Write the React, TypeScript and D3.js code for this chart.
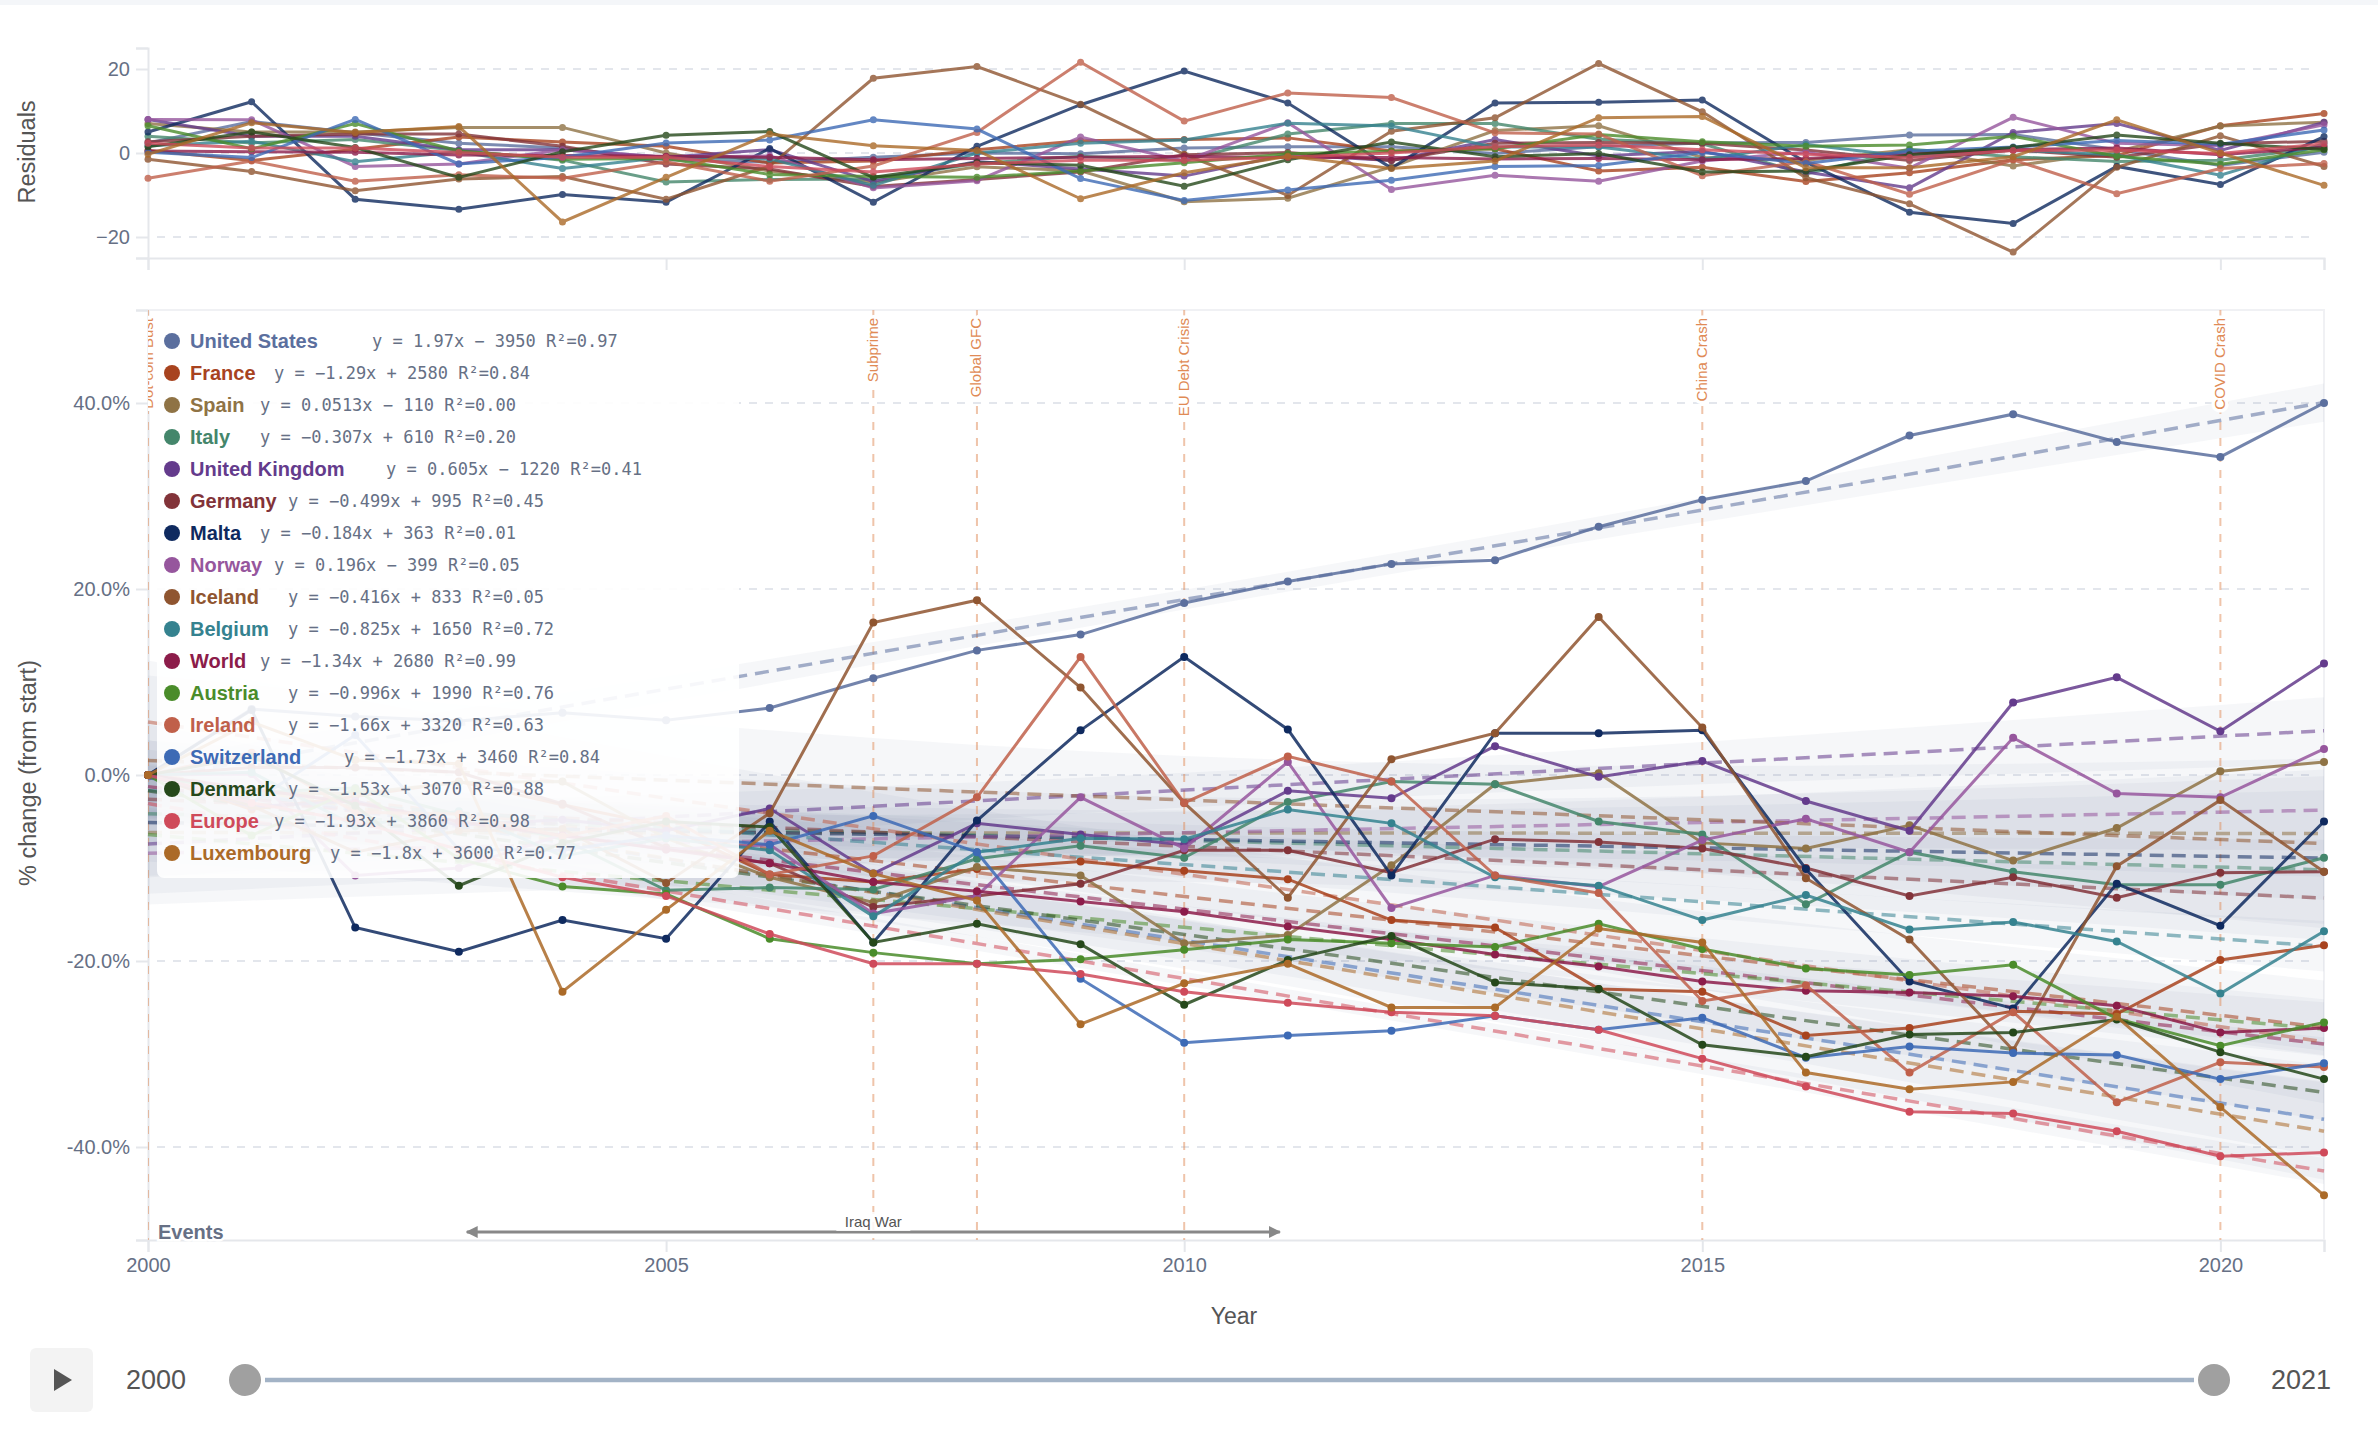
import { useRef, useEffect } from "react";
import * as d3 from "d3";

const years = d3.range(2000, 2022);

const names = ["United States", "France", "Spain", "Italy", "United Kingdom", "Germany", "Malta", "Norway", "Iceland", "Belgium", "World", "Austria", "Ireland", "Switzerland", "Denmark", "Europe", "Luxembourg"];

const colors = ["#5b6f9e", "#a8431f", "#8f7345", "#44866b", "#643b8c", "#823339", "#0f2a5f", "#96569d", "#8f5530", "#35828f", "#8c1c4a", "#4a8c2a", "#c0604a", "#3d6ab5", "#25481a", "#cf4a5a", "#ab6a28"];

const equations = [
  "y = 1.97x − 3950 R²=0.97",
  "y = −1.29x + 2580 R²=0.84",
  "y = 0.0513x − 110 R²=0.00",
  "y = −0.307x + 610 R²=0.20",
  "y = 0.605x − 1220 R²=0.41",
  "y = −0.499x + 995 R²=0.45",
  "y = −0.184x + 363 R²=0.01",
  "y = 0.196x − 399 R²=0.05",
  "y = −0.416x + 833 R²=0.05",
  "y = −0.825x + 1650 R²=0.72",
  "y = −1.34x + 2680 R²=0.99",
  "y = −0.996x + 1990 R²=0.76",
  "y = −1.66x + 3320 R²=0.63",
  "y = −1.73x + 3460 R²=0.84",
  "y = −1.53x + 3070 R²=0.88",
  "y = −1.93x + 3860 R²=0.98",
  "y = −1.8x + 3600 R²=0.77",
];

// % change from start
const unitedStates = [0, 7.1, 6.3, 5.8, 6.7, 5.9, 7.2, 10.4, 13.4, 15.1, 18.5, 20.8, 22.7, 23.1, 26.7, 29.6, 31.6, 36.5, 38.8, 35.8, 34.2, 40];
const france = [0, -3.7, -2.3, -0.7, -3.2, -5.5, -10.7, -11.5, -10.1, -9.3, -10.3, -11.2, -15.6, -16.4, -23, -23.3, -28, -27.2, -25.4, -25.7, -19.9, -18.3];
const spain = [0, -2, -2, -0.8, -0.7, -6.8, -11, -13.7, -9.9, -10.8, -18.1, -17.2, -9.7, -1, 0.2, -7.3, -7.9, -5.4, -9.2, -5.7, 0.4, 1.4];
const italy = [0, -1.9, -1.4, -4.3, -6.9, -12.4, -12.1, -12.3, -9, -7.6, -8.9, -2.9, -0.7, -1, -5, -6.4, -13.9, -8.3, -10.4, -11.8, -11.8, -8.9];
const unitedKingdom = [0, -3.4, -2.8, -5.4, -4.8, -6, -3.6, -10.6, -5.2, -6.4, -7.5, -1.7, -2.5, 3.1, -0.2, 1.5, -2.8, -6, 7.8, 10.5, 4.7, 12];
const germany = [0, 0.8, 0.8, 0.3, -3.1, -7.8, -9.5, -14.2, -13, -11.7, -8.1, -8.1, -10.5, -6.9, -7.2, -7.9, -10, -13, -11, -13.2, -10.5, -10.4];
const malta = [0, 7, -16.4, -19, -15.6, -17.6, -5, -18, -4.9, 4.8, 12.7, 4.9, -10.8, 4.5, 4.5, 4.8, -10.1, -22.2, -25.1, -11.7, -16.2, -5];
const norway = [0, 0.1, -10.8, -10, -6.4, -8, -7.5, -14.9, -13, -2.4, -7.9, 1.4, -14.3, -10.8, -12, -7, -4.7, -8.3, 4, -2, -2.4, 2.8];
const iceland = [0, -3.3, -8.3, -6, -5.8, -11.6, -4.1, 16.4, 18.8, 9.4, -3, -13.2, 1.7, 4.5, 17, 5.1, -11.1, -17.7, -29.6, -9.8, -2.7, -10.4];
const belgium = [0, 0.3, -5.5, -3.9, -8.7, -6.8, -8.1, -15.2, -8.3, -6.8, -6.9, -3.7, -5.2, -11, -11.9, -15.6, -12.9, -16.6, -15.8, -17.9, -23.5, -16.8];
const world = [0, -1.5, -3, -5, -6.5, -8, -9.5, -11.5, -12.5, -13.6, -14.7, -16.3, -17.7, -19.3, -20.6, -22.2, -23.2, -23.4, -23.8, -24.8, -27.7, -27.2];
const austria = [0, -6.5, -1.5, -9, -12, -12.8, -17.6, -19.1, -20.3, -19.8, -18.8, -17.7, -18.1, -18.5, -16, -18.7, -20.8, -21.5, -20.4, -26.2, -29.1, -26.6];
const ireland = [0, 2.4, -4, -4.2, -6.6, -4.4, -10.7, -8.7, -2.4, 12.7, -3, 2, -0.7, -10.8, -12.7, -24.3, -22.6, -32, -25.5, -35.2, -30.9, -31.4];
const switzerland = [0, -3, 4.3, -8, -8.1, -6.5, -7.5, -4.4, -8.3, -21.9, -28.8, -28, -27.5, -25.9, -27.4, -26.1, -30.4, -29.2, -29.9, -30.1, -32.7, -31];
const denmark = [0, 2, -3.3, -11.9, -7.3, -5, -5.6, -18, -16, -18.2, -24.7, -19.9, -17.3, -22.3, -23, -29, -30.3, -27.9, -27.7, -26.3, -29.8, -32.7];
const europe = [0, -3, -5, -8, -11, -13, -17.1, -20.3, -20.3, -21.4, -23.3, -24.5, -25.5, -25.9, -27.4, -30.5, -33.5, -36.2, -36.4, -38.3, -41, -40.6];
const luxembourg = [0, 5.7, 1.6, 1.2, -23.3, -14.5, -6, -10.6, -13.5, -26.8, -22.4, -20.3, -25, -25, -16.5, -18, -32, -33.8, -33, -26, -35.7, -45.2];

const seriesValues = [unitedStates, france, spain, italy, unitedKingdom, germany, malta, norway, iceland, belgium, world, austria, ireland, switzerland, denmark, europe, luxembourg];

// residuals panel
const resUnitedStates = [2.4, 7.5, 4.8, 2.3, 1.2, -1.6, -2.2, -1, 0, -0.2, 1.2, 1.5, 1.5, -0.1, 1.5, 2.4, 2.5, 4.3, 4.4, 0.8, -3, 0.2];
const resFrance = [0.6, -1.8, 0.9, 3.8, 2.6, 1.6, -2.4, -1.9, 0.8, 2.9, 3.2, 3.6, 0.5, 1, -4.3, -3.4, -6.8, -4.7, -1.6, -0.6, 6.5, 9.4];
const resSpain = [7, 5, 5, 6.1, 6.1, 0, -4.3, -7.05, -3.3, -4.25, -11.6, -10.75, -3.3, 5.35, 6.5, -1.05, -1.7, 0.75, -3.1, 0.35, 6.4, 7.35];
const resItaly = [4, 2.4, 3.2, 0.6, -1.7, -6.9, -6.3, -6.2, -2.5, -0.8, -1.8, 4.5, 7, 7, 3.3, 2.2, -5, 0.9, -0.9, -2, -1.7, 1.5];
const resUnitedKingdom = [8, 4, 4, 0.8, 0.8, -1, 0.8, -6.8, -2, -3.8, -5.5, -0.4, -1.8, 3.2, -0.7, 0.4, -4.5, -8.3, 4.9, 7, 0.6, 7.3];
const resGermany = [2.7, 4, 4.5, 4.5, 1.6, -2.6, -3.8, -8, -6.3, -4.5, -0.4, 0.1, -1.8, 2.3, 2.5, 2.3, 0.7, -1.8, 0.7, -1, 2.2, 2.8];
const resMalta = [5, 12.2, -11, -13.4, -9.9, -11.7, 1.1, -11.7, 1.6, 11.5, 19.5, 11.9, -3.6, 11.9, 12.1, 12.6, -2.2, -14.1, -16.8, -3.2, -7.5, 3.9];
const resNorway = [8, 7.9, -3.2, -2.6, 0.8, -1, -0.7, -8.3, -6.6, 3.8, -1.9, 7.2, -8.7, -5.3, -6.7, -1.9, 0.2, -3.6, 8.5, 2.3, 1.7, 6.7];
const resIceland = [-1.5, -4.4, -9, -6.2, -5.6, -11, -3.1, 17.8, 20.6, 11.6, -0.3, -10.1, 5.2, 8.4, 21.3, 9.8, -5.9, -12.1, -23.6, -3.4, 4.1, -3.2];
const resBelgium = [1.7, 2.8, -2.1, 0.3, -3.7, -1, -1.4, -7.7, 0, 2.3, 3.1, 7.1, 6.4, 1.4, 1.4, -1.5, 2, -0.9, 0.8, -0.5, -5.3, 2.2];
const resWorld = [0.5, 0.3, 0.2, -0.5, -0.6, -0.8, -1, -1.6, -1.3, -1, -0.8, -1.1, -1.1, -1.4, -1.3, -1.6, -1.3, -0.1, 0.8, 1.2, -0.4, 1.4];
const resAustria = [6.5, 1, 7, 0.5, -1.5, -1.3, -5.1, -5.6, -5.8, -4.3, -2.3, -0.2, 0.4, 1, 4.4, 2.7, 1.6, 1.9, 4, -0.8, -2.7, 0.8];
const resIreland = [-6, -1.9, -6.7, -5.2, -6, -2.1, -6.7, -3.1, 4.9, 21.6, 7.6, 14.3, 13.2, 4.8, 4.5, -5.4, -2, -9.8, -1.6, -9.7, -3.7, -2.5];
const resSwitzerland = [0.2, -1.1, 8, -2.6, -1, 2.4, 3.1, 7.9, 5.7, -6.1, -11.3, -8.8, -6.5, -3.2, -3, 0.1, -2.5, 0.4, 1.4, 3, 2.1, 5.5];
const resDenmark = [1.5, 5, 1.3, -5.8, 0.3, 4.2, 5.1, -5.8, -2.3, -2.9, -7.9, -1.6, 2.6, -0.9, -0.1, -4.5, -4.3, -0.4, 1.3, 4.3, 2.3, 0.9];
const resEurope = [2.3, 1.2, 1.2, 0.1, -1, -1, -3.2, -4.5, -2.6, -1.7, -1.7, -1, 0, 1.5, 1.9, 0.8, -0.3, -1.1, 0.6, 0.7, -0.1, 2.2];
const resLuxembourg = [-0.3, 7.2, 4.9, 6.3, -16.4, -5.8, 4.5, 1.7, 0.6, -10.9, -4.7, -0.8, -3.7, -1.9, 8.4, 8.7, -3.5, -3.5, -0.9, 7.9, 0, -7.7];

const seriesResiduals = [resUnitedStates, resFrance, resSpain, resItaly, resUnitedKingdom, resGermany, resMalta, resNorway, resIceland, resBelgium, resWorld, resAustria, resIreland, resSwitzerland, resDenmark, resEurope, resLuxembourg];

const eventNames = ["Dot-com Bust", "Subprime", "Global GFC", "EU Debt Crisis", "China Crash", "COVID Crash"];
const eventYears = [2000, 2007, 2008, 2010, 2015, 2020];

const xTicks = [2000, 2005, 2010, 2015, 2020, 2021];
const xLabelTicks = [2000, 2005, 2010, 2015, 2020];
const mainTicks = [-50, -40, -20, 0, 20, 40, 50];
const residualTicks = [-25, -20, 0, 20, 25];

function regress(ys: number[]) {
  const xm = d3.mean(years) as number;
  const ym = d3.mean(ys) as number;
  const sxx = d3.sum(years, (x) => (x - xm) ** 2);
  const sxy = d3.sum(years, (x, i) => (x - xm) * (ys[i] - ym));
  const slope = sxy / sxx;
  const fit = (x: number) => ym + slope * (x - xm);
  const se = Math.sqrt(d3.sum(years, (x, i) => (ys[i] - fit(x)) ** 2) / (years.length - 2));
  const half = (x: number) => 1.9 * se * Math.sqrt(1 / years.length + (x - xm) ** 2 / sxx);
  return { fit, half };
}

export default function App() {
  const svgRef = useRef<SVGSVGElement>(null);

  useEffect(() => {
    if (!svgRef.current) return;
    const svg = d3.select(svgRef.current);
    svg.selectAll("*").remove();
    const font = "'Liberation Sans', Arial, sans-serif";
    const tickColor = "#667085";
    const axisColor = "#e5e7eb";
    const gridColor = "#e3e6ec";
    const eventColor = "#e08a55";

    const left = 148;
    const right = 2324;
    const x = d3.scaleLinear().domain([2000, 2021]).range([left, right]);
    const yRes = d3.scaleLinear().domain([-25, 25]).range([258, 48]);
    const yMain = d3.scaleLinear().domain([-50, 50]).range([1240, 310]);

    svg.append("rect").attr("width", 2378).attr("height", 5).attr("fill", "#f4f6f9");

    const defs = svg.append("defs");
    defs
      .append("clipPath")
      .attr("id", "plotClip")
      .append("rect")
      .attr("x", left)
      .attr("y", 310)
      .attr("width", right - left)
      .attr("height", 930);

    const drawAxes = (
      yScale: d3.ScaleLinear<number, number>,
      ticks: number[],
      gridTicks: number[],
      fmt: (d: number) => string,
      labels: number[]
    ) => {
      const [bottom] = yScale.range();
      const g = svg.append("g").attr("font-family", font);
      g.selectAll(".grid")
        .data(gridTicks)
        .enter()
        .append("line")
        .attr("x1", left + 9)
        .attr("x2", right - 8)
        .attr("y1", (d) => yScale(d))
        .attr("y2", (d) => yScale(d))
        .attr("stroke", gridColor)
        .attr("stroke-width", 2)
        .attr("stroke-dasharray", "8 8");
      const yAxis = g
        .append("g")
        .attr("transform", `translate(${left},0)`)
        .call(
          d3
            .axisLeft(yScale)
            .tickValues(ticks)
            .tickSizeOuter(0)
            .tickSize(12)
            .tickPadding(6)
            .tickFormat((d) => fmt(d as number))
        );
      yAxis.selectAll("text").attr("font-size", 20).attr("fill", tickColor);
      yAxis.selectAll("line").attr("stroke", axisColor).attr("stroke-width", 2);
      yAxis.select(".domain").attr("stroke", axisColor).attr("stroke-width", 2);
      const xAxis = g
        .append("g")
        .attr("transform", `translate(0,${bottom})`)
        .call(
          d3
            .axisBottom(x)
            .tickValues(xTicks)
            .tickSizeOuter(0)
            .tickSize(12)
            .tickPadding(6)
            .tickFormat((d) => (labels.includes(d as number) ? d3.format("d")(d as number) : ""))
        );
      xAxis.selectAll("text").attr("font-size", 20).attr("fill", tickColor);
      xAxis.selectAll("line").attr("stroke", axisColor).attr("stroke-width", 2);
      xAxis.select(".domain").attr("stroke", axisColor).attr("stroke-width", 2);
    };

    drawAxes(yRes, residualTicks, [-20, 0, 20], (d) => (Math.abs(d) === 25 ? "" : d3.format("d")(d)), []);
    drawAxes(yMain, mainTicks, [-40, -20, 0, 20, 40], (d) => (Math.abs(d) === 50 ? "" : `${d.toFixed(1)}%`), xLabelTicks);

    // frame of the main panel
    svg
      .append("path")
      .attr("d", `M${left},310H${right}V1240`)
      .attr("fill", "none")
      .attr("stroke", "#f0f1f4")
      .attr("stroke-width", 2);

    const axisLabel = (text: string, tx: number, ty: number, rotate: boolean, size: number) =>
      svg
        .append("text")
        .attr("transform", `translate(${tx},${ty})${rotate ? " rotate(-90)" : ""}`)
        .attr("text-anchor", "middle")
        .attr("dominant-baseline", "central")
        .attr("font-family", font)
        .attr("font-size", size)
        .attr("fill", "#555")
        .text(text);
    axisLabel("Residuals", 27, 152, true, 23.5);
    axisLabel("% change (from start)", 28, 773, true, 23.5);
    axisLabel("Year", 1234, 1316, false, 23);

    // residuals panel
    const resLine = d3
      .line<number>()
      .x((_, i) => x(years[i]))
      .y((d) => yRes(d));
    const resLayer = svg.append("g");
    seriesResiduals.forEach((vals, s) => {
      const g = resLayer.append("g").attr("opacity", 0.8);
      g.append("path")
        .attr("d", resLine(vals))
        .attr("fill", "none")
        .attr("stroke", colors[s])
        .attr("stroke-width", 3);
      g.selectAll("circle")
        .data(vals)
        .enter()
        .append("circle")
        .attr("cx", (_, i) => x(years[i]))
        .attr("cy", (d) => yRes(d))
        .attr("r", 3.5)
        .attr("fill", colors[s]);
    });

    // confidence bands
    const fits = seriesValues.map((v) => regress(v));
    const bandLayer = svg.append("g");
    fits.forEach((f) => {
      const band = d3
        .area<number>()
        .x((d) => x(d))
        .y0((d) => yMain(f.fit(d) - f.half(d)))
        .y1((d) => yMain(f.fit(d) + f.half(d)));
      bandLayer.append("path").attr("d", band(years)).attr("fill", "#5f7396").attr("fill-opacity", 0.06);
    });

    // event markers
    const eventLayer = svg.append("g").attr("clip-path", "url(#plotClip)").attr("font-family", font);
    eventYears.forEach((yr, i) => {
      eventLayer
        .append("line")
        .attr("x1", x(yr))
        .attr("x2", x(yr))
        .attr("y1", 310)
        .attr("y2", 1240)
        .attr("stroke", eventColor)
        .attr("stroke-opacity", 0.5)
        .attr("stroke-width", 2)
        .attr("stroke-dasharray", "8 8");
      eventLayer
        .append("text")
        .attr("transform", `translate(${x(yr) - 1},318) rotate(-90)`)
        .attr("text-anchor", "end")
        .attr("dominant-baseline", "central")
        .attr("font-size", 15)
        .attr("fill", eventColor)
        .attr("stroke", "white")
        .attr("stroke-width", 7)
        .attr("stroke-linejoin", "round")
        .attr("paint-order", "stroke")
        .text(eventNames[i]);
    });

    // trend lines
    const trendLayer = svg.append("g");
    fits.forEach((f, s) => {
      const trend = d3
        .line<number>()
        .x((d) => x(d))
        .y((d) => yMain(f.fit(d)));
      trendLayer
        .append("path")
        .attr("d", trend([2000, 2021]))
        .attr("fill", "none")
        .attr("stroke", colors[s])
        .attr("stroke-opacity", 0.55)
        .attr("stroke-width", 3.5)
        .attr("stroke-dasharray", "14 8");
    });

    // main lines
    const mainLine = d3
      .line<number>()
      .x((_, i) => x(years[i]))
      .y((d) => yMain(d));
    const lineLayer = svg.append("g");
    seriesValues.forEach((vals, s) => {
      const g = lineLayer.append("g");
      g.append("path")
        .attr("d", mainLine(vals))
        .attr("fill", "none")
        .attr("stroke", colors[s])
        .attr("stroke-opacity", 0.85)
        .attr("stroke-width", 3);
      g.selectAll("circle")
        .data(vals)
        .enter()
        .append("circle")
        .attr("cx", (_, i) => x(years[i]))
        .attr("cy", (d) => yMain(d))
        .attr("r", 4)
        .attr("fill", colors[s]);
    });

    // Events row
    const rowY = 1232;
    const arrow = defs
      .append("marker")
      .attr("id", "arrowHead")
      .attr("viewBox", "0 0 10 10")
      .attr("refX", 9)
      .attr("refY", 5)
      .attr("markerWidth", 12)
      .attr("markerHeight", 12)
      .attr("markerUnits", "userSpaceOnUse")
      .attr("orient", "auto-start-reverse");
    arrow.append("path").attr("d", "M0,0L10,5L0,10Z").attr("fill", "#888");
    svg
      .append("line")
      .attr("x1", x(2003) + 8)
      .attr("x2", x(2011) - 8)
      .attr("y1", rowY)
      .attr("y2", rowY)
      .attr("stroke", "#888")
      .attr("stroke-width", 3)
      .attr("marker-start", "url(#arrowHead)")
      .attr("marker-end", "url(#arrowHead)");
    svg
      .append("rect")
      .attr("x", x(2007) - 37)
      .attr("y", rowY - 20)
      .attr("width", 74)
      .attr("height", 19)
      .attr("fill", "white")
      .attr("fill-opacity", 0.85);
    svg
      .append("text")
      .attr("x", x(2007))
      .attr("y", rowY - 11)
      .attr("text-anchor", "middle")
      .attr("dominant-baseline", "central")
      .attr("font-family", font)
      .attr("font-size", 15)
      .attr("fill", "#555")
      .text("Iraq War");
    svg
      .append("text")
      .attr("x", 158)
      .attr("y", rowY)
      .attr("dominant-baseline", "central")
      .attr("font-family", font)
      .attr("font-size", 20)
      .attr("font-weight", "bold")
      .attr("fill", tickColor)
      .attr("stroke", "white")
      .attr("stroke-width", 5)
      .attr("paint-order", "stroke")
      .text("Events");

    // legend
    const legend = svg.append("g");
    legend
      .append("rect")
      .attr("x", 157)
      .attr("y", 312)
      .attr("width", 582)
      .attr("height", 566)
      .attr("rx", 7)
      .attr("fill", "white")
      .attr("fill-opacity", 0.9);
    names.forEach((name, i) => {
      const rowCy = 341 + i * 32;
      legend.append("circle").attr("cx", 172).attr("cy", rowCy).attr("r", 8).attr("fill", colors[i]);
      legend
        .append("text")
        .attr("x", 190)
        .attr("y", rowCy)
        .attr("dominant-baseline", "central")
        .attr("font-family", font)
        .attr("font-size", 20)
        .attr("font-weight", "bold")
        .attr("fill", colors[i])
        .text(name);
      legend
        .append("text")
        .attr("x", 190 + name.length * 14)
        .attr("y", rowCy)
        .attr("dominant-baseline", "central")
        .attr("font-family", "'DejaVu Sans Mono', monospace")
        .attr("font-size", 17)
        .attr("fill", tickColor)
        .text(equations[i]);
    });

    // player controls
    const controlY = 1380;
    const slider = d3.scaleLinear().domain([2000, 2021]).range([245, 2214]);
    const controls = svg.append("g").attr("font-family", font);
    controls
      .append("rect")
      .attr("x", 30)
      .attr("y", 1348)
      .attr("width", 63)
      .attr("height", 64)
      .attr("rx", 6)
      .attr("fill", "#f3f3f3");
    controls.append("path").attr("d", "M54,1369L72,1380L54,1391Z").attr("fill", "#555");
    controls
      .append("line")
      .attr("x1", slider(2000) + 20)
      .attr("x2", slider(2021) - 20)
      .attr("y1", controlY)
      .attr("y2", controlY)
      .attr("stroke", "#a3b3c6")
      .attr("stroke-width", 4.5);
    [2000, 2021].forEach((yr) => {
      controls.append("circle").attr("cx", slider(yr)).attr("cy", controlY).attr("r", 16).attr("fill", "#a0a0a0");
    });
    controls
      .append("text")
      .attr("x", 126)
      .attr("y", controlY)
      .attr("dominant-baseline", "central")
      .attr("font-size", 27)
      .attr("fill", "#555")
      .text("2000");
    controls
      .append("text")
      .attr("x", 2331)
      .attr("y", controlY)
      .attr("text-anchor", "end")
      .attr("dominant-baseline", "central")
      .attr("font-size", 27)
      .attr("fill", "#555")
      .text("2021");
  }, []);

  return (
    <svg
      ref={svgRef}
      width={2378}
      height={1430}
      viewBox="0 0 2378 1430"
      style={{ position: "absolute", left: 0, top: 0, display: "block", background: "white" }}
    />
  );
}
